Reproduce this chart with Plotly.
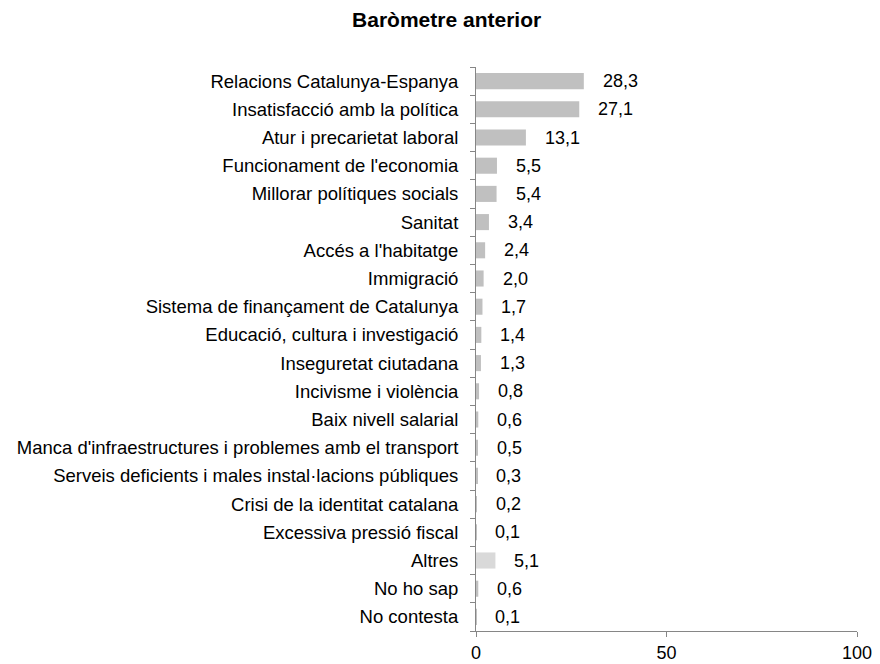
import plotly.graph_objects as go

categories = [
    "Relacions Catalunya-Espanya",
    "Insatisfacció amb la política",
    "Atur i precarietat laboral",
    "Funcionament de l'economia",
    "Millorar polítiques socials",
    "Sanitat",
    "Accés a l'habitatge",
    "Immigració",
    "Sistema de finançament de Catalunya",
    "Educació, cultura i investigació",
    "Inseguretat ciutadana",
    "Incivisme i violència",
    "Baix nivell salarial",
    "Manca d'infraestructures i problemes amb el transport",
    "Serveis deficients i males instal·lacions públiques",
    "Crisi de la identitat catalana",
    "Excessiva pressió fiscal",
    "Altres",
    "No ho sap",
    "No contesta",
]
values = [28.3, 27.1, 13.1, 5.5, 5.4, 3.4, 2.4, 2.0, 1.7, 1.4, 1.3, 0.8, 0.6, 0.5, 0.3, 0.2, 0.1, 5.1, 0.6, 0.1]
x_ticks = [0, 50, 100]

colors = ["#d9d9d9" if c == "Altres" else "#c0c0c0" for c in categories]
FONT = "Liberation Sans, Arial"

fig = go.Figure()
fig.add_trace(go.Bar(
    x=values, y=categories, orientation="h",
    marker=dict(color=colors, line=dict(width=0)),
    hoverinfo="skip",
))

for c, v in zip(categories, values):
    fig.add_annotation(
        x=v, y=c, text=f"{v:.1f}".replace(".", ","),
        showarrow=False, xanchor="left", xshift=17,
        font=dict(family=FONT, size=18, color="#000000"),
    )

fig.update_layout(
    width=872, height=656,
    margin=dict(l=468, r=23, t=59, b=33, autoexpand=False),
    paper_bgcolor="white", plot_bgcolor="white",
    title=dict(text="<b>Baròmetre anterior</b>", x=0.503, xanchor="center", y=0.983, yanchor="middle",
               font=dict(family=FONT, size=21, color="#000000")),
    font=dict(family=FONT, size=18, color="#000000"),
    bargap=0.43,
    showlegend=False,
    separators=",.",
)
fig.update_xaxes(
    range=[0, 100], tickvals=x_ticks, ticks="outside", ticklen=5, tickcolor="#868686",
    showline=True, linecolor="#868686", linewidth=1, showgrid=False, zeroline=False,
    tickfont=dict(size=18),
)
fig.update_yaxes(
    categoryorder="array", categoryarray=categories[::-1],
    ticks="outside", ticklen=5, tickcolor="#868686", tickson="boundaries",
    showline=True, linecolor="#868686", linewidth=1, showgrid=False, zeroline=False,
    tickfont=dict(size=18.5), ticklabelstandoff=13,
)

fig.write_html("out.html")
